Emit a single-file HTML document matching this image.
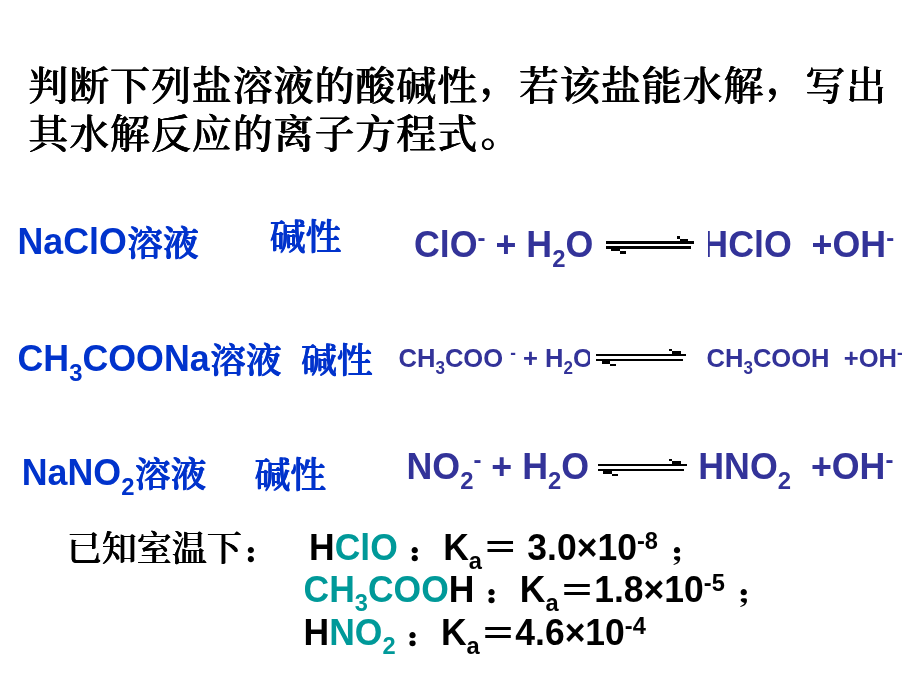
<!DOCTYPE html>
<html lang="zh-CN">
<head>
<meta charset="utf-8">
<title>盐类水解</title>
<style>
html,body{margin:0;padding:0;background:#fff;}
body{width:920px;height:690px;position:relative;overflow:hidden;font-family:"Liberation Sans","Noto Serif CJK SC",sans-serif;}
.t{position:absolute;white-space:pre;line-height:1;margin:0;font-size:35.78px;}
.cn{font-family:"Liberation Serif","Noto Serif CJK SC",serif;font-weight:500;text-shadow:0.8px 0 0 currentColor,0 0.5px 0 currentColor,0.8px 0.5px 0 currentColor;}
.b{font-weight:bold;}
.l{display:inline-block;transform:scaleY(1.04);transform-origin:0 84.65%;}
.c{display:inline-block;transform:translateY(2px) scaleY(0.95);}
.title{left:28px;top:63px;text-shadow:0.8px 0 0 currentColor,0 0.3px 0 currentColor;font-size:40px;line-height:48px;letter-spacing:0.89px;color:#000;}
.title i{font-style:normal;position:relative;top:-7.5px;left:2px;}
.title b{font-weight:inherit;position:relative;top:-2.5px;left:2.5px;}
.blue{color:#0033cc;}
.eq{color:#333399;}
.teal{color:#009999;}
sub,sup{font-size:66.7%;line-height:0;position:relative;vertical-align:baseline;}
sub{top:0.4em;}
sup{top:-0.45em;}
.p,.s{display:inline-block;position:relative;font-weight:700;text-shadow:none;transform:translate(-2.4px,2.2px);}
.p::before,.s::before{position:absolute;left:0;top:0;clip-path:inset(0 0 42% 0);transform:translateY(5.6px);}
.p::before{content:"：";}
.s::before{content:"；";}
.p>span,.s>span{display:inline-block;clip-path:inset(62% 0 -30% 0);}
.s>span{transform:scaleY(0.75);transform-origin:0 73%;}
.s{transform:translate(-0.4px,2.2px);}
.e{font-family:"Noto Sans CJK SC",sans-serif;font-weight:500;position:relative;top:0.7px;left:0.5px;}
#slide{position:absolute;left:0;top:0;width:920px;height:690px;will-change:transform;}
.arrow{position:absolute;background:#fff;}
.arrow svg{display:block;}
</style>
</head>
<body>
<div id="slide">
<div class="t cn title">判断下列盐溶液的酸碱性<i>，</i>若该盐能水解<i>，</i>写出<br>其水解反应的离子方程式<b>。</b></div>

<div class="t b blue" style="left:17.5px;top:224.5px;"><span class="l">NaClO</span><span class="cn c">溶液</span></div>
<div class="t blue cn" style="left:269.5px;top:220px;">碱性</div>
<div class="t b eq" style="left:414px;top:228px;"><span class="l">ClO<sup>-</sup> + H<sub>2</sub>O</span></div>
<div class="t b eq" style="left:702.3px;top:228px;"><span class="l">HClO&nbsp; +OH<sup>-</sup></span></div>
<div class="arrow" style="left:598px;top:229px;width:110.4px;height:32px;"><svg width="110" height="32" viewBox="598 229 110 32" shape-rendering="crispEdges"><g transform="translate(606 236)" fill="#000"><rect x="0" y="5" width="88" height="3"/><rect x="0" y="10" width="85" height="3"/><rect x="71" y="0" width="3" height="3"/><rect x="74" y="3" width="8" height="2"/><rect x="5" y="13" width="9" height="2"/><rect x="14" y="15" width="6" height="3"/></g></svg></div>

<div class="t b blue" style="left:17.5px;top:342px;"><span class="l">CH<sub>3</sub>COONa</span><span class="cn c" style="word-spacing:10.5px;">溶液 碱性</span></div>
<div class="t b eq" style="left:398.5px;top:346px;font-size:25.56px;"><span class="l">CH<sub>3</sub>COO <sup>-</sup> + H<sub>2</sub>O</span></div>
<div class="t b eq" style="left:706.5px;top:346px;font-size:25.56px;"><span class="l">CH<sub>3</sub>COOH&nbsp; +OH<sup>-</sup></span></div>
<div class="arrow" style="left:590px;top:343px;width:104px;height:28px;"><svg width="104" height="28" viewBox="590 343 104 28" shape-rendering="crispEdges"><g transform="translate(596 349)" fill="#000"><rect x="0" y="5" width="90" height="2"/><rect x="0" y="10" width="87" height="2"/><rect x="73" y="0" width="3" height="2"/><rect x="76" y="2" width="9" height="3"/><rect x="6" y="12" width="8" height="2.6"/><rect x="14" y="14.6" width="6" height="2.2"/></g></svg></div>

<div class="t b blue" style="left:21.75px;top:455.75px;"><span class="l">NaNO<sub>2</sub></span><span class="cn c">溶液</span></div>
<div class="t blue cn" style="left:254.25px;top:457.75px;">碱性</div>
<div class="t b eq" style="left:406.5px;top:450.25px;"><span class="l">NO<sub>2</sub><sup>-</sup> + H<sub>2</sub>O</span></div>
<div class="t b eq" style="left:698.25px;top:450.25px;"><span class="l">HNO<sub>2</sub>&nbsp; +OH<sup>-</sup></span></div>
<div class="arrow" style="left:592px;top:453px;width:102px;height:28px;"><svg width="102" height="28" viewBox="592 453 102 28" shape-rendering="crispEdges"><g transform="translate(598 459)" fill="#000"><rect x="0" y="5" width="89" height="2"/><rect x="0" y="10" width="86" height="2"/><rect x="71" y="0" width="3" height="2"/><rect x="74" y="2" width="9" height="3"/><rect x="5" y="12" width="9" height="2.6"/><rect x="14" y="14.6" width="6" height="2.2"/></g></svg></div>

<div class="t cn" style="left:66.5px;top:531.5px;font-size:35px;text-shadow:0.7px 0 0 currentColor,0 0.3px 0 currentColor;">已知室温下<span class="p" style="transform:translate(0,1.5px);"><span>：</span></span></div>
<div class="t b" style="left:309px;top:526.5px;font-size:35.5px;"><span class="l">H<span class="teal">ClO</span> </span><span class="cn p"><span>：</span></span><span class="l">K<sub>a</sub></span><span class="e">＝</span><span class="l"> 3.0×10<sup>-8</sup> </span><span class="cn s"><span>；</span></span></div>
<div class="t b" style="left:303.5px;top:569px;font-size:35.5px;"><span class="l"><span class="teal">CH<sub>3</sub>COO</span>H </span><span class="cn p"><span>：</span></span><span class="l">K<sub>a</sub></span><span class="e">＝</span><span class="l">1.8×10<sup>-5</sup> </span><span class="cn s"><span>；</span></span></div>
<div class="t b" style="left:303.5px;top:612.25px;font-size:35.5px;"><span class="l">H<span class="teal">NO<sub>2</sub></span> </span><span class="cn p"><span>：</span></span><span class="l">K<sub>a</sub></span><span class="e">＝</span><span class="l">4.6×10<sup>-4</sup></span></div>
</div>
</body>
</html>
